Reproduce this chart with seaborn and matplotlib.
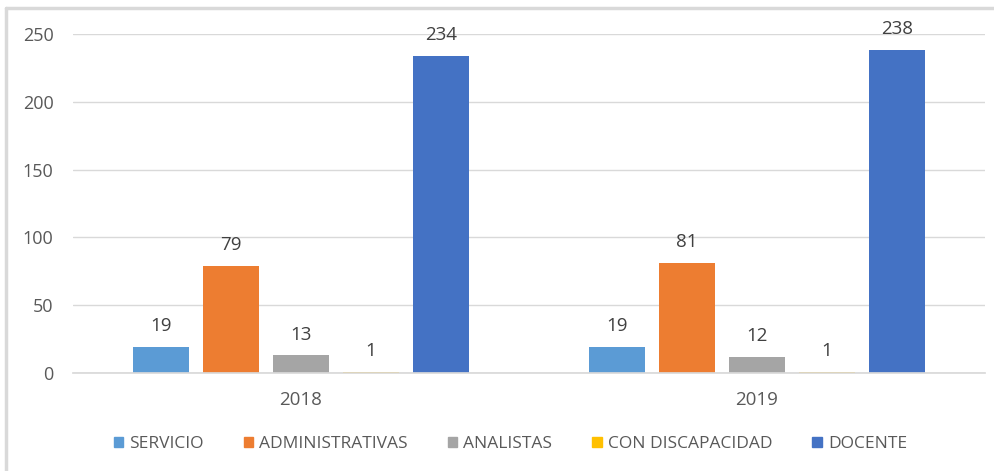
import pandas as pd
import matplotlib.pyplot as plt
import seaborn as sns
from matplotlib.lines import Line2D

# Daten
years = ["2018", "2019"]
groups = ["SERVICIO", "ADMINISTRATIVAS", "ANALISTAS", "CON DISCAPACIDAD", "DOCENTE"]
values_2018 = [19, 79, 13, 1, 234]
values_2019 = [19, 81, 12, 1, 238]
colors = ["#5B9BD5", "#ED7D31", "#A5A5A5", "#FFC000", "#4472C4"]
y_ticks = [0, 50, 100, 150, 200, 250]

df = pd.DataFrame({
    "year": [y for y in years for _ in groups],
    "group": groups * len(years),
    "value": values_2018 + values_2019,
})

sns.set_theme(style="white")
plt.rcParams["font.family"] = ["Open Sans", "DejaVu Sans"]

fig = plt.figure(figsize=(9.95, 4.71), dpi=100)
ax = fig.add_axes([73 / 995, 98 / 471, 912 / 995, 339 / 471])

sns.barplot(data=df, x="year", y="value", hue="group", hue_order=groups,
            palette=colors, width=0.7675, gap=0.2, ax=ax, legend=False,
            saturation=1, edgecolor="none")

# Datenbeschriftungen
for container in ax.containers:
    ax.bar_label(container, fmt="%d", padding=8.5, fontsize=13.5, color="#404040")

ax.set_ylim(0, 250)
ax.set_xlim(-0.5, 1.5)
ax.set_yticks(y_ticks)
ax.yaxis.grid(True, color="#D9D9D9", linewidth=1)
ax.set_axisbelow(True)
for s in ["top", "right", "left"]:
    ax.spines[s].set_visible(False)
ax.spines["bottom"].set_color("#D9D9D9")
ax.tick_params(axis="y", length=0, pad=14, labelsize=13, labelcolor="#595959")
ax.tick_params(axis="x", length=0, pad=13, labelsize=13.5, labelcolor="#595959")
ax.set_xlabel("")
ax.set_ylabel("")

# Legende
handles = [plt.Rectangle((0, 0), 1, 1, color=c) for c in colors]
fig.legend(handles, groups, loc="center", bbox_to_anchor=(0.513, 27 / 471),
           ncol=5, frameon=False, fontsize=12.5, labelcolor="#595959",
           handlelength=0.55, handleheight=0.55, handletextpad=0.35, columnspacing=2.3)

# Rahmen
fig.add_artist(Line2D([6 / 995, 6 / 995], [0, 1 - 8 / 471], color="#D9D9D9", lw=2.5, transform=fig.transFigure))
fig.add_artist(Line2D([6 / 995, 1], [1 - 8 / 471, 1 - 8 / 471], color="#D9D9D9", lw=2.5, transform=fig.transFigure))

fig.savefig("out.png", dpi=100)
